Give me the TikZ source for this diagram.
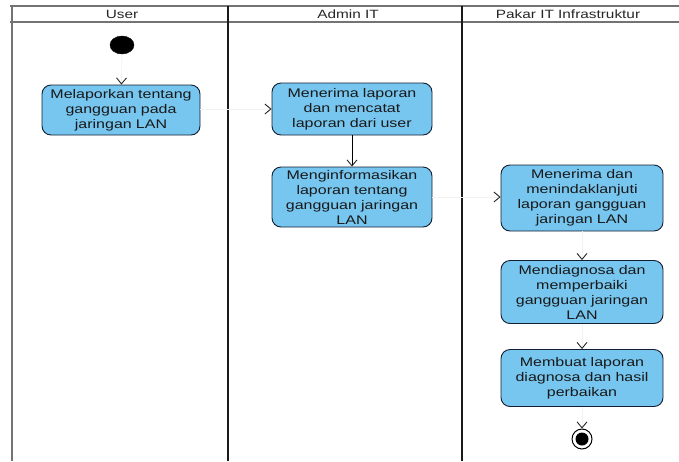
\documentclass[tikz,border=0pt]{standalone}
\usepackage{fontspec}
\setmainfont[FakeStretch=1.28]{Liberation Sans}
\usetikzlibrary{arrows.meta,shapes.geometric}
\definecolor{actfill}{RGB}{118,198,240}
\definecolor{actline}{RGB}{20,30,50}
\begin{document}
\begin{tikzpicture}[x=1pt,y=-1pt,
  activity/.style={draw=actline, line width=0.9pt, fill=actfill, rounded corners=9pt,
    align=center, inner sep=2pt, font=\fontsize{12.5}{15}\selectfont, text=black!90},
  lanehead/.style={font=\fontsize{12}{14}\selectfont, text=black!85},
  flow/.style={draw=black!5, line width=0.6pt,
    -{Straight Barb[length=6pt, width=10pt, line width=0.9pt, color=black!85]}},
  solidflow/.style={draw=black, line width=1pt,
    -{Straight Barb[length=6pt, width=10pt, line width=0.9pt, color=black!85]}},
  sep/.style={line width=2.2pt, draw=black!90},
  border/.style={line width=1.6pt, draw=black!55}]
  \useasboundingbox (0,0) rectangle (679,461);

  % swimlane frame
  \draw[border] (12,6) -- (12,461);
  \draw[border] (10,6) -- (679,6);
  \draw[border] (10,22) -- (679,22);
  \draw[sep] (228,6) -- (228,461);
  \draw[sep] (462,6) -- (462,461);

  \node[lanehead] (hUser) at (122,14) {User};
  \node[lanehead] (hAdmin) at (348,14) {Admin IT};
  \node[lanehead] (hPakar) at (568,14) {Pakar IT Infrastruktur};

  % start and end states
  \node[draw=black, fill=black, ellipse, minimum width=24pt, minimum height=18pt, inner sep=0pt] (start) at (122,45) {};
  \node[draw=black, line width=1pt, fill=white, circle, minimum size=20pt, inner sep=0pt] (finish) at (582,439) {};
  \fill[black] (finish) circle (6.5pt);

  % activities
  \node[activity, minimum width=158pt, minimum height=50pt, text width=152pt] (u1) at (121,110)
    {Melaporkan tentang\\gangguan pada\\jaringan LAN};
  \node[activity, minimum width=160pt, minimum height=52pt, text width=154pt] (a1) at (352,109)
    {Menerima laporan\\dan mencatat\\laporan dari user};
  \node[activity, minimum width=160pt, minimum height=60pt, text width=154pt] (a2) at (352,197)
    {Menginformasikan\\laporan tentang\\gangguan jaringan\\LAN};
  \node[activity, minimum width=162pt, minimum height=66pt, text width=156pt] (p1) at (582,198)
    {Menerima dan\\menindaklanjuti\\laporan gangguan\\jaringan LAN};
  \node[activity, minimum width=162pt, minimum height=63pt, text width=156pt] (p2) at (582,292)
    {Mendiagnosa dan\\memperbaiki\\gangguan jaringan\\LAN};
  \node[activity, minimum width=162pt, minimum height=57pt, text width=156pt] (p3) at (582,378)
    {Membuat laporan\\diagnosa dan hasil\\perbaikan};

  % control flows
  \draw[flow] (start) -- (u1);
  \draw[flow] (u1.east |- a1.west) -- (a1.west);
  \draw[solidflow] (a1) -- (a2);
  \draw[flow] (a2.east) -- (a2.east -| p1.west);
  \draw[flow] (p1) -- (p2);
  \draw[flow] (p2) -- (p3);
  \draw[flow] (p3) -- (finish);
\end{tikzpicture}
\end{document}
